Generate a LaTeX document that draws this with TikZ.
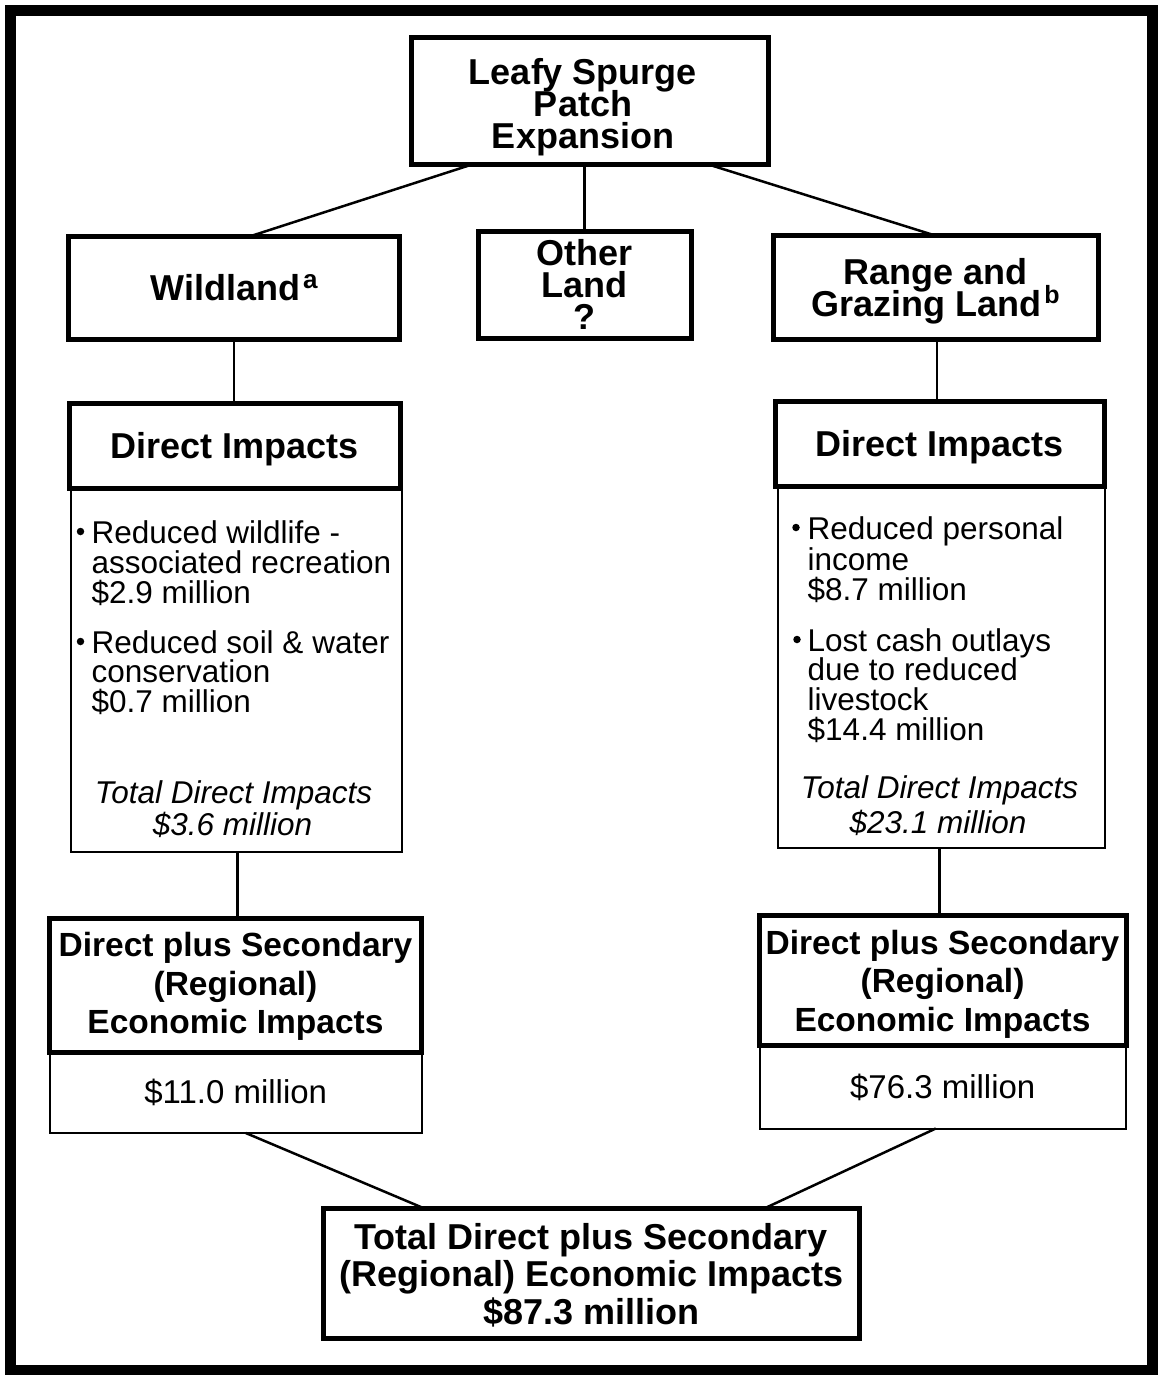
\documentclass[tikz,border=0pt]{standalone}
\usepackage{fontspec}
\setmainfont{Liberation Sans}
\lineskiplimit=-100pt
\begin{document}
\begin{tikzpicture}[x=1pt,y=-1pt,
  bigbox/.style={draw, line width=5pt, inner sep=0pt, outer sep=0pt},
  thinbox/.style={draw, line width=2pt, inner sep=0pt, outer sep=0pt},
  headfont/.style={font=\fontsize{36}{32}\selectfont\bfseries},
  dpsfont/.style={font=\fontsize{33.5}{38.5}\selectfont\bfseries},
  totalfont/.style={font=\fontsize{36}{37.5}\selectfont\bfseries},
  amountfont/.style={font=\fontsize{33}{36}\selectfont},
  bodyfont/.style={font=\fontsize{31.5}{30}\selectfont, inner sep=0pt, anchor=base west},
  sumfont/.style={font=\fontsize{31.5}{32}\selectfont\itshape, inner sep=0pt, anchor=base},
  dot/.style={circle, fill, inner sep=0pt, minimum size=7.5pt},
  conn/.style={line width=2.5pt},
]
\useasboundingbox (0,0) rectangle (1157,1375);
% outer frame
\draw[line width=11pt] (10,10.5) rectangle (1152.5,1370.5);

% top box
\node[bigbox, minimum width=357pt, minimum height=127pt] (top) at (590,101) {};
\node[headfont, align=center, inner sep=0pt] (toptext) at (583,107) {Leafy Spurge\\Patch\\Expansion};

% land boxes
\node[bigbox, headfont, align=center, minimum width=331pt, minimum height=103pt] (wild) at (234,287.5)
  {Wildland\hspace{3pt}\smash{\raisebox{12pt}{\fontsize{26}{26}\selectfont a}}};
\node[bigbox, headfont, align=center, minimum width=213pt, minimum height=107pt] (other) at (584.5,284.5)
  {Other\\Land\\?};
\node[bigbox, headfont, align=center, minimum width=325pt, minimum height=104pt] (range) at (935.5,287)
  {\rule{0pt}{34.3pt}Range and\\Grazing Land\hspace{3pt}\smash{\raisebox{13pt}{\fontsize{25}{25}\selectfont b}}};

% direct impacts (left)
\node[thinbox, minimum width=331pt, minimum height=363.5pt] (lbody) at (236,669.75) {};
\node[bigbox, headfont, minimum width=331pt, minimum height=84.5pt] (lhead) at (234.5,445.75) {\rule{0pt}{32.3pt}Direct Impacts};
\node[dot] (lb1) at (80.5,531.5) {};
\node[bodyfont] (l1a) at (91.5,543) {Reduced wildlife -};
\node[bodyfont] (l1b) at (91.5,573) {associated recreation};
\node[bodyfont] (l1c) at (91.5,603) {\$2.9 million};
\node[dot] (lb2) at (80.5,641.5) {};
\node[bodyfont] (l2a) at (91.5,653) {Reduced soil \& water};
\node[bodyfont] (l2b) at (91.5,682) {conservation};
\node[bodyfont] (l2c) at (91.5,712) {\$0.7 million};
\node[sumfont] (ltot1) at (233.5,803) {Total Direct Impacts};
\node[sumfont] (ltot2) at (232.5,835) {\$3.6 million};

% direct impacts (right)
\node[thinbox, minimum width=327.5pt, minimum height=362pt] (rbody) at (941.25,667) {};
\node[bigbox, headfont, minimum width=329pt, minimum height=84.5pt] (rhead) at (939.5,443.75) {\rule{0pt}{32.3pt}Direct Impacts};
\node[dot] (rb1) at (796,527.5) {};
\node[bodyfont] (r1a) at (807.5,539) {Reduced personal};
\node[bodyfont] (r1b) at (807.5,570) {income};
\node[bodyfont] (r1c) at (807.5,600) {\$8.7 million};
\node[dot] (rb2) at (797,639.5) {};
\node[bodyfont] (r2a) at (807.5,651) {Lost cash outlays};
\node[bodyfont] (r2b) at (807.5,680) {due to reduced};
\node[bodyfont] (r2c) at (807.5,710) {livestock};
\node[bodyfont] (r2d) at (807.5,740) {\$14.4 million};
\node[sumfont] (rtot1) at (939.5,798) {Total Direct Impacts};
\node[sumfont] (rtot2) at (938,833) {\$23.1 million};

% direct plus secondary (left)
\node[thinbox, amountfont, minimum width=371.5pt, minimum height=81pt] (ldpsb) at (235.75,1092.5) {\$11.0 million};
\node[bigbox, dpsfont, align=center, minimum width=372pt, minimum height=134pt] (ldpsh) at (235.5,985)
  {\rule{0pt}{27.5pt}Direct plus Secondary\\(Regional)\\Economic Impacts};

% direct plus secondary (right)
\node[thinbox, amountfont, minimum width=366.5pt, minimum height=83pt] (rdpsb) at (942.75,1087) {\$76.3 million};
\node[bigbox, dpsfont, align=center, minimum width=367pt, minimum height=130pt] (rdpsh) at (942.5,980.5)
  {\rule{0pt}{31pt}Direct plus Secondary\\(Regional)\\Economic Impacts};

% total
\node[bigbox, totalfont, align=center, minimum width=535.5pt, minimum height=130pt] (total) at (591.25,1273)
  {\rule{0pt}{30pt}Total Direct plus Secondary\\(Regional) Economic Impacts\\\$87.3 million};

% connectors
\draw[conn] ([xshift=-118pt]top.south) -- ([xshift=17pt]wild.north);
\draw[conn] (other.north |- top.south) -- (other.north);
\draw[conn] ([xshift=118.5pt]top.south) -- ([xshift=-2pt]range.north);
\draw[conn] (wild.south) -- (wild.south |- lhead.north);
\draw[conn] ([xshift=1.5pt]range.south) -- ([xshift=1.5pt]range.south |- rhead.north);
\draw[conn] ([xshift=1.5pt]lbody.south) -- ([xshift=1.5pt]lbody.south |- ldpsh.north);
\draw[conn] ([xshift=-2pt]rbody.south) -- ([xshift=-2pt]rbody.south |- rdpsh.north);
\draw[conn] ([xshift=10pt]ldpsb.south) -- ([xshift=-168pt]total.north);
\draw[conn] ([xshift=-7pt]rdpsb.south) -- ([xshift=174pt]total.north);
\end{tikzpicture}
\end{document}
